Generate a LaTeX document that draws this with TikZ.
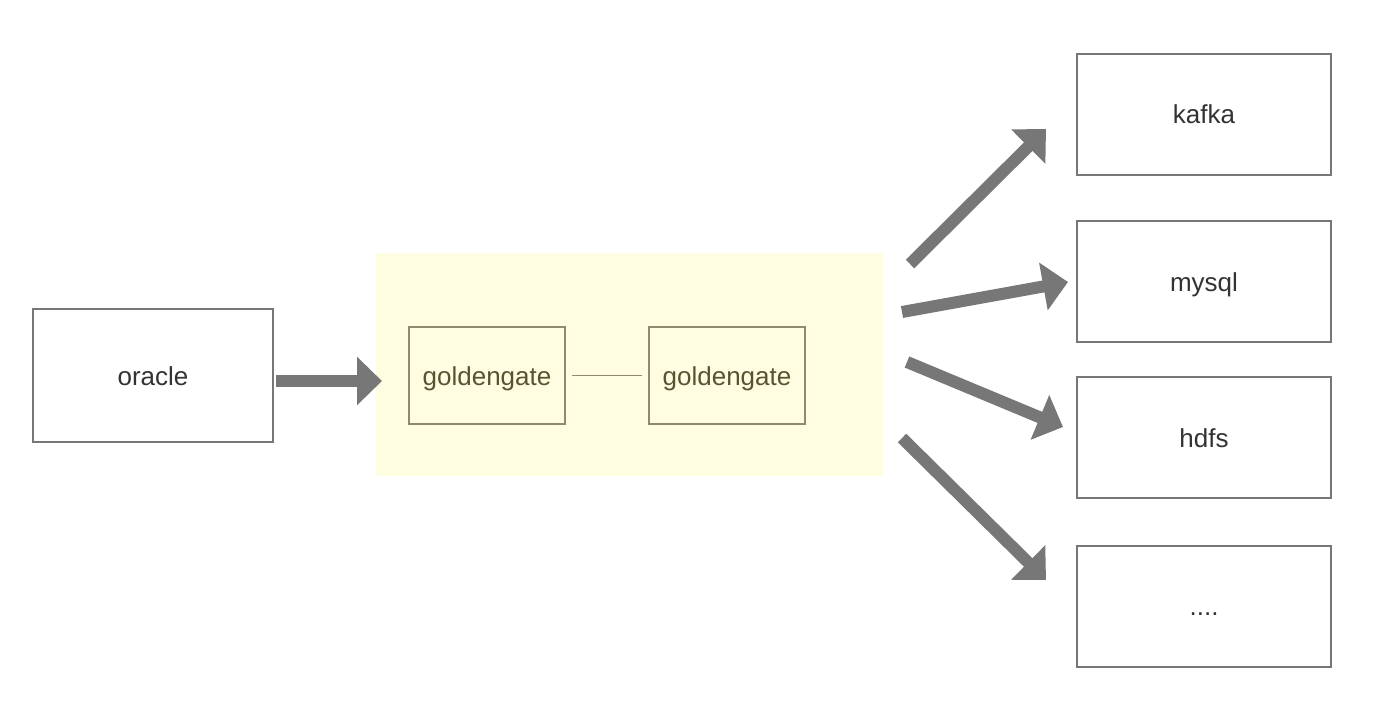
\documentclass[tikz,border=0pt]{standalone}
\usepackage{fontspec}
\setmainfont{Liberation Sans}
\usetikzlibrary{arrows.meta}
\definecolor{boxgray}{HTML}{777777}
\definecolor{txtdark}{HTML}{333333}
\definecolor{bgyellow}{HTML}{FEFDE1}
\definecolor{ggborder}{HTML}{8E8B6C}
\definecolor{ggtext}{HTML}{5A5332}
\tikzset{
  basefont/.style={font=\fontsize{26}{30}\selectfont, text height=22pt, text depth=3pt},
  plainbox/.style={basefont, draw=boxgray, line width=2pt, fill=white, minimum width=254pt, minimum height=121pt, inner sep=0pt, text=txtdark},
  ggbox/.style={basefont, draw=ggborder, line width=2pt, minimum width=156pt, minimum height=97pt, inner sep=0pt, text=ggtext},
  bigarrow/.style={draw=boxgray, line width=12pt, -{Triangle[length=25pt,width=47pt]}},
  thinline/.style={draw=ggborder, line width=1pt}
}
\begin{document}
\begin{tikzpicture}[x=1pt,y=-1pt]
\useasboundingbox (0,0) rectangle (1392,724);
\fill[white] (0,0) rectangle (1392,724);
% yellow background
\node[fill=bgyellow, minimum width=507pt, minimum height=223pt, inner sep=0pt] (bg) at (629.5,364.5) {};
\node[plainbox, minimum width=240pt, minimum height=133pt] (oracle) at (153,375.5) {oracle};
\node[ggbox] (gg1) at (487,375.5) {goldengate};
\node[ggbox] (gg2) at (727,375.5) {goldengate};
\node[plainbox] (kafka) at (1204,114) {kafka};
\node[plainbox] (mysql) at (1204,281.5) {mysql};
\node[plainbox] (hdfs) at (1204,437.5) {hdfs};
\node[plainbox] (more) at (1204,606) {....};
\draw[thinline] ([xshift=6pt]gg1.east) -- ([xshift=-6pt]gg2.west);
% arrow end points
\coordinate (a0s) at (276,381);
\coordinate (a0e) at (382,381);
\coordinate (a1s) at (910,264);
\coordinate (a1e) at (1046,129);
\coordinate (a2s) at (902,312);
\coordinate (a2e) at (1068,282);
\coordinate (a3s) at (907,362);
\coordinate (a3e) at (1063,427);
\coordinate (a4s) at (902,438);
\coordinate (a4e) at (1046,580);
\draw[bigarrow] (a0s) -- (a0e);
\draw[bigarrow] (a1s) -- (a1e);
\draw[bigarrow] (a2s) -- (a2e);
\draw[bigarrow] (a3s) -- (a3e);
\draw[bigarrow] (a4s) -- (a4e);
\end{tikzpicture}
\end{document}
